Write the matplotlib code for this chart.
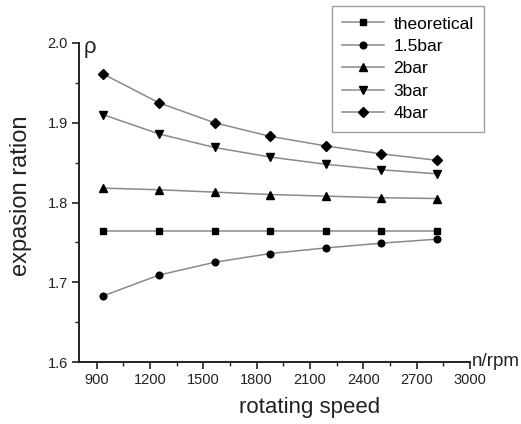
import matplotlib
matplotlib.use("Agg")
import matplotlib.pyplot as plt
from matplotlib.ticker import MultipleLocator

plt.rcParams['font.family'] = ['Liberation Sans', 'DejaVu Sans']

speed = [937.5, 1250, 1562.5, 1875, 2187.5, 2500, 2812.5]
theoretical = [1.764, 1.764, 1.764, 1.764, 1.764, 1.764, 1.764]
bar15 = [1.683, 1.709, 1.725, 1.736, 1.743, 1.749, 1.754]
bar2 = [1.818, 1.816, 1.813, 1.810, 1.808, 1.806, 1.805]
bar3 = [1.910, 1.886, 1.869, 1.857, 1.848, 1.841, 1.836]
bar4 = [1.961, 1.925, 1.900, 1.883, 1.871, 1.861, 1.853]

series = [
    ("theoretical", theoretical, 's', 4.5),
    ("1.5bar", bar15, 'o', 4.8),
    ("2bar", bar2, '^', 5.5),
    ("3bar", bar3, 'v', 5.5),
    ("4bar", bar4, 'D', 5.0),
]

fig = plt.figure(figsize=(5.21, 4.24), dpi=100)
ax = fig.add_axes([79/521, 1-362/424, (470-79)/521, (362-43)/424])

line_color = '#8a8a8a'
for name, vals, mk, ms in series:
    ax.plot(speed, vals, color=line_color, lw=1.1, marker=mk, ms=ms,
            mfc='black', mec='black', label=name)

ax.set_xlim(800, 3000)
ax.set_ylim(1.6, 2.0)
ax.yaxis.set_major_locator(MultipleLocator(0.1))
ax.yaxis.set_minor_locator(MultipleLocator(0.05))
ax.set_xticks([900, 1200, 1500, 1800, 2100, 2400, 2700, 3000])
ax.set_xticks([1050, 1350, 1650, 1950, 2250, 2550, 2850], minor=True)

for s in ['top', 'right']:
    ax.spines[s].set_visible(False)
for s in ['left', 'bottom']:
    ax.spines[s].set_linewidth(1.4)
    ax.spines[s].set_color('#222222')

ax.tick_params(which='major', direction='out', length=5, width=1.2,
               labelsize=10.5, pad=3, color='#222222', labelcolor='#222222')
ax.tick_params(which='minor', direction='out', length=3, width=1.0, color='#222222')

ax.set_xlabel('rotating speed', fontsize=16, color='#222222')
ax.set_ylabel('expasion ration', fontsize=17, color='#222222')
ax.xaxis.set_label_coords((310-79)/391, -0.11)
ax.yaxis.set_label_coords(-0.12, 0.52)

ax.text(0.012, (362-53)/319, 'ρ', transform=ax.transAxes, fontsize=16,
        va='baseline', ha='left', color='#222222')
ax.text(1.005, 0.0, 'n/rpm', transform=ax.transAxes, fontsize=13.5,
        va='center', ha='left', color='#222222', clip_on=False)

leg = ax.legend(loc='upper right', bbox_to_anchor=(484/521, 1-6/424),
                bbox_transform=fig.transFigure, fontsize=12.5,
                frameon=True, fancybox=False, handlelength=2.4,
                handletextpad=0.55, labelspacing=0.42, borderpad=0.6,
                borderaxespad=0)
leg.get_frame().set_edgecolor('#888888')
leg.get_frame().set_linewidth(1.0)

fig.savefig('out.png', dpi=100)
